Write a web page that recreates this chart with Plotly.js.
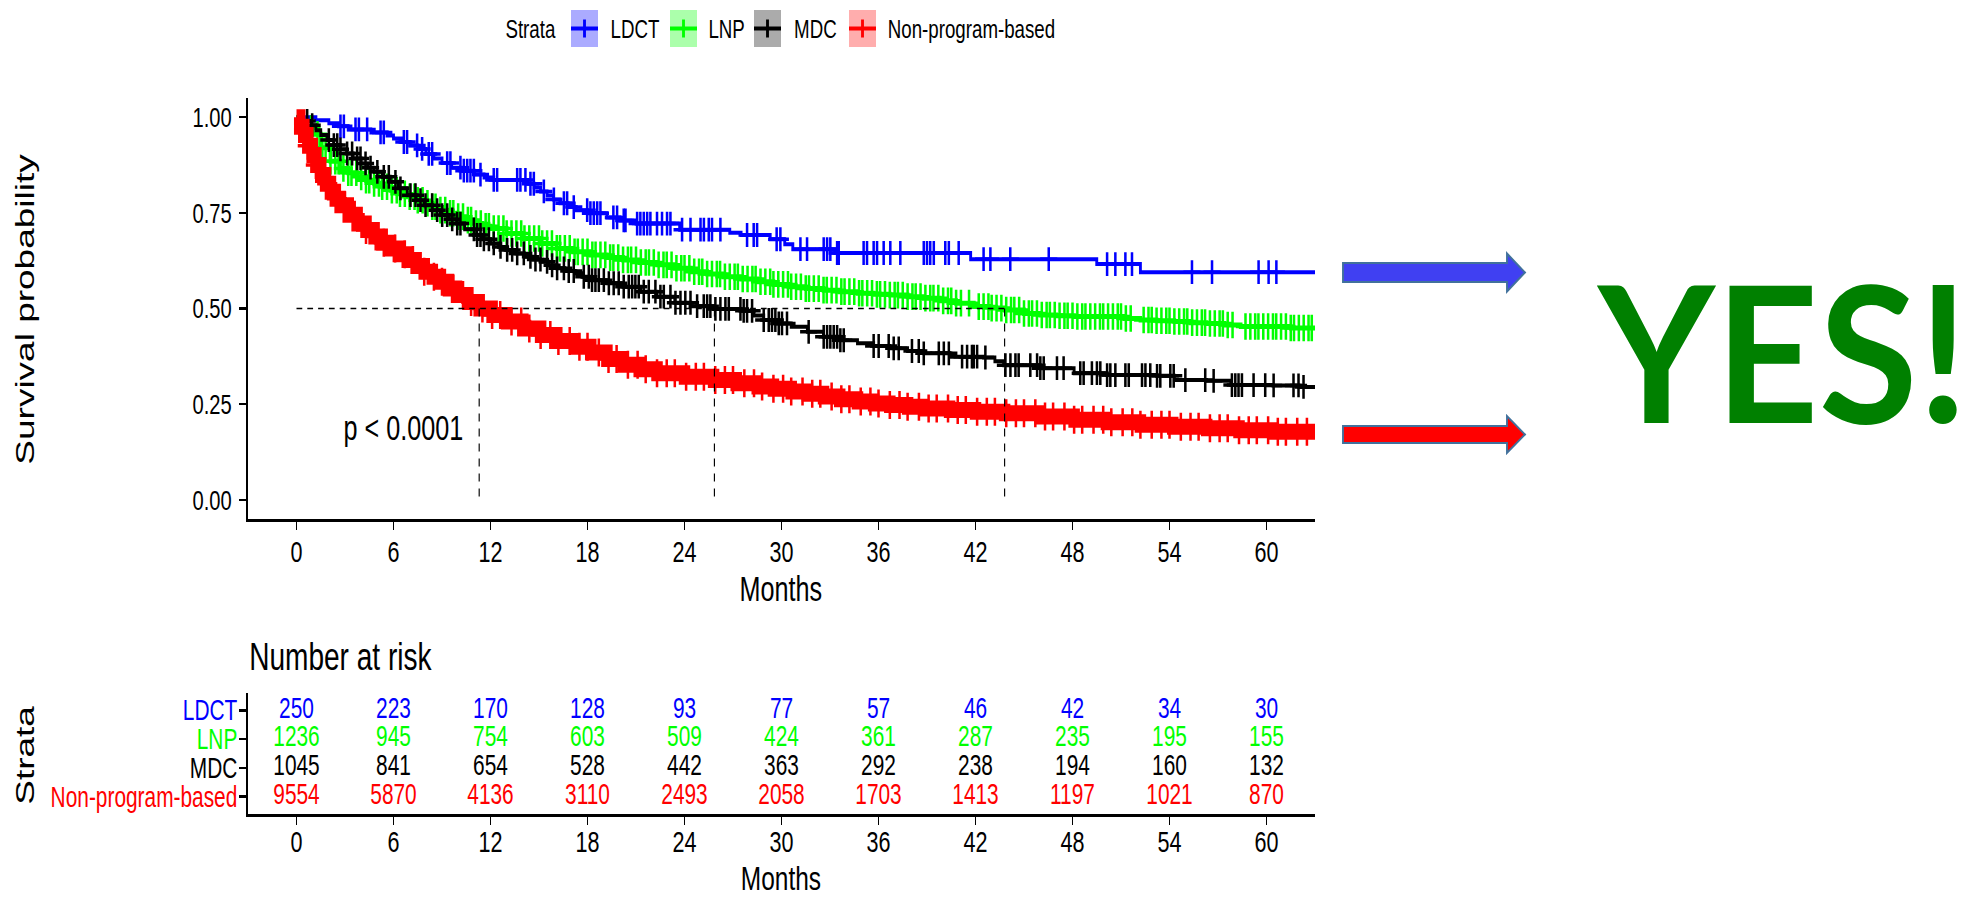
<!DOCTYPE html>
<html><head><meta charset="utf-8">
<script src="https://cdn.plot.ly/plotly-3.0.1.min.js"></script>
<style>
html,body{margin:0;padding:0;background:#fff;overflow:hidden;width:1977px;height:899px;}
#wrap{position:absolute;left:0;top:0;width:1977px;height:899px;overflow:hidden;}
#km{position:absolute;left:0;top:0;width:2746px;height:899px;transform:scaleX(0.71996);transform-origin:0 0;}
#overlay{position:absolute;left:0;top:0;width:2081px;height:899px;transform:scaleX(0.95002);transform-origin:0 0;pointer-events:none;}
</style></head><body>
<div id="wrap"><div id="km"></div><div id="overlay"></div></div>
<script>
// ---------------- DATA ----------------
const strata = ['LDCT', 'LNP', 'MDC', 'Non-program-based'];

const ldctTime = [0, 1.2, 2.0, 2.6, 3.2, 4.6, 5.6, 6.0, 6.5, 7.0, 7.5, 8.0, 8.5, 9.0, 9.6, 10.2, 11.0, 11.6, 12.2, 14.3, 14.7, 15.1, 15.5, 15.9, 16.3, 16.8, 17.3, 18.0, 19.2, 20.0, 21.0, 23.7, 26.8, 27.5, 29.3, 30.2, 30.7, 33.3, 41.7, 49.5, 52.2, 63.0];
const ldctSurv = [1.0, 0.992, 0.984, 0.976, 0.968, 0.960, 0.952, 0.944, 0.935, 0.926, 0.917, 0.904, 0.892, 0.880, 0.868, 0.860, 0.850, 0.842, 0.836, 0.826, 0.816, 0.806, 0.795, 0.785, 0.775, 0.765, 0.757, 0.749, 0.738, 0.730, 0.722, 0.706, 0.698, 0.692, 0.681, 0.668, 0.655, 0.645, 0.629, 0.616, 0.595, 0.595];
const ldctCensor = [2.72, 2.93, 3.65, 3.86, 4.37, 5.2, 5.4, 6.64, 6.84, 7.46, 7.77, 8.18, 8.39, 9.32, 9.52, 10.14, 10.35, 10.56, 10.76, 10.97, 11.38, 12.2, 12.41, 13.65, 13.85, 14.16, 14.47, 14.68, 15.3, 15.92, 16.54, 16.74, 17.15, 17.98, 18.18, 18.39, 18.6, 18.8, 19.6, 19.83, 20.24, 20.35, 21.07, 21.27, 21.48, 21.69, 21.89, 22.3, 22.61, 22.92, 23.13, 23.85, 24.37, 24.99, 25.2, 25.5, 25.7, 26.22, 27.87, 28.28, 28.49, 29.7, 29.93, 31.17, 31.58, 32.61, 32.82, 33.02, 33.44, 33.54, 35.08, 35.29, 35.7, 35.91, 36.32, 36.73, 37.35, 38.8, 39.0, 39.2, 39.42, 40.13, 40.35, 40.96, 42.5, 42.92, 44.15, 46.53, 50.14, 50.65, 51.27, 51.68, 55.39, 56.63, 59.51, 60.13, 60.61];

const lnpTime = [0, 0.3, 0.6, 1.0, 1.5, 2.1, 2.7, 3.2, 3.75, 4.3, 4.8, 5.3, 5.8, 6.3, 6.85, 7.4, 7.9, 8.4, 8.9, 9.4, 9.9, 10.5, 11.0, 11.5, 12.0, 13.0, 14.0, 15.1, 16.1, 17.1, 18.2, 19.2, 20.2, 21.2, 22.3, 23.4, 24.4, 25.4, 26.4, 27.5, 28.5, 29.5, 30.5, 31.5, 32.6, 33.6, 34.7, 35.7, 36.7, 37.8, 38.8, 39.8, 40.8, 41.9, 42.9, 43.8, 45.0, 46.0, 47.0, 48.1, 50.1, 51.2, 52.2, 53.2, 54.3, 55.3, 56.3, 57.4, 58.4, 60.4, 61.5, 63.0];
const lnpSurv = [1.0, 0.985, 0.970, 0.955, 0.920, 0.885, 0.866, 0.855, 0.844, 0.835, 0.827, 0.818, 0.809, 0.800, 0.792, 0.783, 0.775, 0.766, 0.757, 0.749, 0.740, 0.731, 0.722, 0.715, 0.709, 0.696, 0.683, 0.670, 0.657, 0.648, 0.640, 0.633, 0.627, 0.620, 0.614, 0.605, 0.596, 0.590, 0.583, 0.577, 0.570, 0.563, 0.557, 0.552, 0.548, 0.544, 0.540, 0.537, 0.535, 0.531, 0.527, 0.520, 0.514, 0.505, 0.501, 0.496, 0.487, 0.483, 0.481, 0.479, 0.479, 0.474, 0.470, 0.468, 0.466, 0.463, 0.461, 0.457, 0.453, 0.453, 0.449, 0.444];
const lnpCensor = [0.9, 1.3, 1.6, 1.8, 2.1, 2.4, 2.6, 2.9, 3.2, 3.4, 3.7, 4.0, 4.3, 4.5, 4.8, 5.1, 5.3, 5.6, 5.9, 6.2, 6.4, 6.7, 7.0, 7.3, 7.5, 7.8, 8.1, 8.4, 8.6, 8.9, 9.2, 9.5, 9.7, 10.0, 10.3, 10.6, 10.8, 11.1, 11.4, 11.7, 11.9, 12.2, 12.5, 12.8, 13.0, 13.3, 13.6, 13.9, 14.1, 14.4, 14.7, 15.0, 15.2, 15.5, 15.8, 16.1, 16.3, 16.6, 16.9, 17.2, 17.4, 17.7, 18.0, 18.3, 18.5, 18.8, 19.1, 19.4, 19.6, 19.9, 20.2, 20.5, 20.7, 21.0, 21.3, 21.6, 21.8, 22.1, 22.4, 22.7, 22.9, 23.2, 23.5, 23.8, 24.0, 24.3, 24.6, 24.9, 25.1, 25.4, 25.7, 26.0, 26.2, 26.5, 26.8, 27.1, 27.3, 27.6, 27.9, 28.2, 28.4, 28.7, 29.0, 29.3, 29.5, 29.8, 30.1, 30.4, 30.6, 30.9, 31.2, 31.5, 31.7, 32.0, 32.3, 32.6, 32.8, 33.1, 33.4, 33.7, 33.9, 34.2, 34.5, 34.8, 35.0, 35.3, 35.6, 35.9, 36.1, 36.4, 36.7, 37.0, 37.2, 37.5, 37.8, 38.1, 38.3, 38.6, 38.9, 39.2, 39.4, 39.7, 40.0, 40.3, 40.5, 40.8, 41.1, 41.6, 42.2, 42.5, 42.8, 43.0, 43.3, 43.6, 43.9, 44.2, 44.4, 44.7, 45.0, 45.3, 45.5, 45.8, 46.1, 46.4, 46.6, 46.9, 47.2, 47.5, 47.7, 48.0, 48.3, 48.6, 48.8, 49.1, 49.4, 49.7, 49.9, 50.2, 50.5, 50.8, 51.0, 51.3, 51.6, 52.4, 52.7, 52.9, 53.2, 53.5, 53.8, 54.0, 54.3, 54.6, 54.9, 55.1, 55.4, 55.7, 56.0, 56.2, 56.5, 56.8, 57.1, 57.3, 57.6, 57.9, 58.7, 59.0, 59.3, 59.5, 59.8, 60.1, 60.4, 60.6, 60.9, 61.2, 61.5, 61.7, 62.0, 62.3, 62.6, 62.8];

const mdcTime = [0, 0.4, 0.9, 1.2, 1.5, 1.9, 2.3, 2.7, 3.1, 3.5, 4.0, 4.4, 4.8, 5.3, 5.8, 6.3, 6.85, 7.4, 7.9, 8.4, 8.9, 9.4, 9.9, 10.4, 11.0, 11.5, 12.0, 12.5, 13.0, 13.5, 14.1, 14.6, 15.1, 15.6, 16.1, 16.6, 17.2, 17.7, 18.2, 19.2, 20.2, 21.3, 22.3, 23.4, 24.4, 25.8, 27.5, 28.3, 28.9, 29.7, 30.6, 31.6, 32.6, 33.6, 34.7, 35.7, 36.7, 37.8, 38.8, 40.4, 42.5, 43.2, 43.75, 46.0, 48.1, 50.1, 53.2, 54.3, 56.3, 57.8, 60.4, 62.0, 63.0];
const mdcSurv = [1.0, 0.990, 0.979, 0.966, 0.953, 0.940, 0.927, 0.916, 0.905, 0.892, 0.879, 0.868, 0.857, 0.844, 0.831, 0.814, 0.796, 0.783, 0.770, 0.757, 0.744, 0.733, 0.722, 0.707, 0.692, 0.681, 0.670, 0.661, 0.653, 0.644, 0.635, 0.628, 0.622, 0.613, 0.605, 0.598, 0.592, 0.583, 0.574, 0.566, 0.557, 0.544, 0.531, 0.515, 0.506, 0.499, 0.494, 0.482, 0.470, 0.461, 0.452, 0.439, 0.426, 0.417, 0.409, 0.402, 0.396, 0.389, 0.383, 0.374, 0.372, 0.362, 0.352, 0.344, 0.331, 0.326, 0.324, 0.313, 0.311, 0.300, 0.299, 0.295, 0.290];
const mdcCensor = [0.66, 0.97, 2.0, 2.31, 2.52, 2.72, 3.13, 3.44, 3.75, 3.96, 4.27, 4.58, 5.0, 5.4, 5.71, 6.12, 6.43, 7.05, 7.36, 7.67, 7.98, 8.39, 8.7, 9.01, 9.32, 9.63, 9.94, 10.14, 10.97, 11.17, 11.38, 11.59, 11.9, 12.2, 12.62, 13.03, 13.34, 13.65, 14.06, 14.47, 14.78, 15.09, 15.5, 15.81, 16.12, 16.54, 16.84, 17.15, 17.77, 18.08, 18.28, 18.49, 18.7, 19.01, 19.32, 19.62, 19.93, 20.24, 20.55, 20.76, 20.96, 21.17, 21.48, 21.79, 22.2, 22.51, 22.72, 23.13, 23.44, 23.75, 24.05, 24.37, 24.78, 25.19, 25.4, 25.6, 25.91, 26.22, 26.53, 26.74, 27.46, 27.66, 27.87, 28.18, 28.9, 29.21, 29.41, 29.62, 29.83, 30.03, 30.34, 31.68, 32.61, 32.82, 33.02, 33.23, 33.44, 33.64, 33.85, 35.7, 36.01, 36.63, 36.94, 37.25, 38.07, 38.49, 38.8, 39.73, 40.04, 40.35, 41.17, 41.48, 41.78, 41.89, 42.1, 42.61, 43.85, 44.16, 44.47, 44.67, 45.39, 45.81, 46.01, 46.22, 47.04, 47.45, 48.48, 48.69, 49.2, 49.51, 49.72, 50.14, 50.34, 50.65, 51.27, 51.48, 52.3, 52.51, 52.81, 53.23, 53.43, 54.05, 54.26, 54.98, 56.21, 56.73, 57.86, 58.07, 58.27, 58.48, 59.2, 59.92, 60.44, 61.67, 61.98, 62.29];

const nonTime = [0, 0.2, 0.45, 0.7, 0.97, 1.2, 1.5, 1.8, 2.1, 2.4, 2.7, 3.2, 3.75, 4.3, 4.8, 5.3, 5.8, 6.3, 6.85, 7.4, 7.9, 8.4, 8.9, 9.4, 9.9, 10.6, 11.3, 12.1, 13.0, 14.0, 15.1, 16.1, 17.2, 18.2, 19.2, 20.2, 21.2, 22.3, 24.0, 25.8, 27.2, 28.5, 29.5, 30.6, 31.6, 32.6, 33.6, 34.7, 35.7, 36.7, 37.8, 38.8, 40.4, 42.0, 43.8, 46.0, 48.1, 50.1, 52.2, 54.2, 56.3, 58.3, 60.4, 63.0];
const nonSurv = [1.0, 0.975, 0.953, 0.925, 0.901, 0.875, 0.849, 0.826, 0.805, 0.787, 0.770, 0.745, 0.722, 0.705, 0.688, 0.672, 0.657, 0.642, 0.627, 0.611, 0.596, 0.583, 0.570, 0.552, 0.535, 0.517, 0.500, 0.483, 0.466, 0.448, 0.431, 0.415, 0.400, 0.385, 0.368, 0.353, 0.341, 0.331, 0.322, 0.313, 0.305, 0.296, 0.290, 0.283, 0.277, 0.270, 0.263, 0.257, 0.252, 0.248, 0.243, 0.239, 0.235, 0.230, 0.226, 0.218, 0.209, 0.203, 0.196, 0.191, 0.187, 0.182, 0.178, 0.174];
const nonCensor = [0.7, 1.2, 1.9, 2.5, 3.0, 3.6, 4.3, 4.9, 5.4, 6.1, 6.7, 7.2, 7.9, 8.5, 9.0, 9.7, 10.3, 10.8, 11.5, 12.1, 12.6, 13.3, 13.9, 14.4, 15.1, 15.7, 16.2, 16.9, 17.5, 18.0, 18.7, 19.3, 19.8, 20.5, 21.1, 21.6, 22.3, 22.9, 23.4, 24.1, 24.7, 25.2, 25.9, 26.5, 27.0, 27.7, 28.3, 28.8, 29.5, 30.1, 30.6, 31.3, 31.9, 32.4, 33.1, 33.7, 34.2, 34.9, 35.5, 36.0, 36.7, 37.3, 37.8, 38.5, 39.1, 39.6, 40.3, 40.9, 41.4, 42.1, 42.7, 43.2, 43.9, 44.5, 45.0, 45.7, 46.3, 46.8, 47.5, 48.1, 48.6, 49.3, 49.9, 50.4, 51.1, 51.7, 52.2, 52.9, 53.5, 54.0, 54.7, 55.3, 55.8, 56.5, 57.1, 57.6, 58.3, 58.9, 59.4, 60.1, 60.7, 61.2, 61.9, 62.5];

const medianTimes = [11.3, 25.85, 43.8];
const pValueText = 'p &lt; 0.0001';

const riskTimes = [0, 6, 12, 18, 24, 30, 36, 42, 48, 54, 60];
const riskLDCT = [250, 223, 170, 128, 93, 77, 57, 46, 42, 34, 30];
const riskLNP = [1236, 945, 754, 603, 509, 424, 361, 287, 235, 195, 155];
const riskMDC = [1045, 841, 654, 528, 442, 363, 292, 238, 194, 160, 132];
const riskNon = [9554, 5870, 4136, 3110, 2493, 2058, 1703, 1413, 1197, 1021, 870];

const monthTicks = [0, 6, 12, 18, 24, 30, 36, 42, 48, 54, 60];
const survTicks = [0, 0.25, 0.5, 0.75, 1.0];
const survTickText = ['0.00', '0.25', '0.50', '0.75', '1.00'];

// ---------------- STYLE / LAYOUT ----------------
const colors = ['#0000FF', '#00FF00', '#000000', '#FF0000'];
const keyFill = ['rgba(0,0,255,0.33)', 'rgba(0,255,0,0.33)', 'rgba(0,0,0,0.33)', 'rgba(255,0,0,0.32)'];
const FONT = 'Liberation Sans, Arial, Helvetica, sans-serif';
const W = 2746, H = 899;
const px = X => X / 1977;          // reference pixel -> paper x
const py = Y => 1 - Y / 899;       // reference pixel -> paper y

function survAt(times, surv, t) {
  let v = surv[0];
  for (let i = 0; i < times.length; i++) { if (times[i] <= t) v = surv[i]; }
  return v;
}

const groups = [
  {time: ldctTime, surv: ldctSurv, cens: ldctCensor, risk: riskLDCT, lw: 4, ms: 17},
  {time: lnpTime, surv: lnpSurv, cens: lnpCensor, risk: riskLNP, lw: 5, ms: 19},
  {time: mdcTime, surv: mdcSurv, cens: mdcCensor, risk: riskMDC, lw: 4, ms: 17},
  {time: nonTime, surv: nonSurv, cens: nonCensor, risk: riskNon, lw: 16, ms: 20}
];

const traces = [];
groups.forEach((g, i) => {
  traces.push({type: 'scatter', mode: 'lines', x: g.time, y: g.surv, xaxis: 'x', yaxis: 'y',
    line: {shape: 'hv', color: colors[i], width: g.lw}, name: strata[i], showlegend: false, hoverinfo: 'skip'});
  traces.push({type: 'scatter', mode: 'markers', x: g.cens, y: g.cens.map(t => survAt(g.time, g.surv, t)),
    xaxis: 'x', yaxis: 'y', showlegend: false, hoverinfo: 'skip',
    marker: {symbol: 'cross-thin', size: g.ms, color: colors[i], line: {color: colors[i], width: 3.5}}});
});

// median survival lines (horizontal to the largest median, vertical at each median)
const medX = [0, Math.max(...medianTimes), null], medY = [0.5, 0.5, null];
medianTimes.forEach(m => { medX.push(m, m, null); medY.push(0.5, 0, null); });
traces.push({type: 'scatter', mode: 'lines', x: medX, y: medY, xaxis: 'x', yaxis: 'y', showlegend: false,
  hoverinfo: 'skip', line: {color: '#000', width: 1.6, dash: '8px,7px'}});

// number at risk table
groups.forEach((g, i) => {
  traces.push({type: 'scatter', mode: 'text', x: riskTimes, y: riskTimes.map(() => 4 - i),
    text: g.risk.map(String), xaxis: 'x2', yaxis: 'y2', showlegend: false, hoverinfo: 'skip', cliponaxis: false,
    textposition: 'middle center', textfont: {family: FONT, size: 29, color: colors[i]}});
});

const axisCommon = {showline: true, linecolor: '#000', showgrid: false, zeroline: false, ticks: 'outside',
  tickcolor: '#000', fixedrange: true, tickfont: {family: FONT, size: 30, color: '#000'}};

const rowTickText = strata.map((s, i) => '<span style="color:' + colors[i] + '">' + s + '</span>').reverse();

const annotations = [
  {text: pValueText, x: px(342), y: py(427), xref: 'paper', yref: 'paper', xanchor: 'left', yanchor: 'middle', showarrow: false, font: {family: FONT, size: 35, color: '#000'}},
  {text: 'Survival probability', x: px(25), y: py(309), xref: 'paper', yref: 'paper', xanchor: 'center', yanchor: 'middle', textangle: -90, showarrow: false, font: {family: FONT, size: 37, color: '#000'}},
  {text: 'Months', x: px(781), y: py(588), xref: 'paper', yref: 'paper', xanchor: 'center', yanchor: 'middle', showarrow: false, font: {family: FONT, size: 35, color: '#000'}},
  {text: 'Number at risk', x: px(248), y: py(656), xref: 'paper', yref: 'paper', xanchor: 'left', yanchor: 'middle', showarrow: false, font: {family: FONT, size: 39, color: '#000'}},
  {text: 'Strata', x: px(25), y: py(755), xref: 'paper', yref: 'paper', xanchor: 'center', yanchor: 'middle', textangle: -90, showarrow: false, font: {family: FONT, size: 37, color: '#000'}},
  {text: 'Months', x: px(781), y: 0, xref: 'paper', yref: 'paper', xanchor: 'center', yanchor: 'bottom', showarrow: false, font: {family: FONT, size: 34, color: '#000'}},
  {text: 'Strata', x: px(557), y: py(28.5), xref: 'paper', yref: 'paper', xanchor: 'right', yanchor: 'middle', showarrow: false, font: {family: FONT, size: 26, color: '#000'}}
];
const shapes = [];
const keyBoxes = [[571, 598, 609], [670, 697, 707], [754, 781, 793], [849, 876, 886]];
keyBoxes.forEach((b, i) => {
  shapes.push({type: 'rect', xref: 'paper', yref: 'paper', x0: px(b[0]), x1: px(b[1]), y0: py(47), y1: py(10), fillcolor: keyFill[i], line: {width: 0}});
  shapes.push({type: 'line', xref: 'paper', yref: 'paper', x0: px(b[0]), x1: px(b[1]), y0: py(28.5), y1: py(28.5), line: {color: colors[i], width: 4}});
  shapes.push({type: 'line', xref: 'paper', yref: 'paper', x0: px((b[0] + b[1]) / 2), x1: px((b[0] + b[1]) / 2), y0: py(19.5), y1: py(37.5), line: {color: colors[i], width: 4}});
  annotations.push({text: strata[i], x: px(b[2]), y: py(28.5), xref: 'paper', yref: 'paper', xanchor: 'left', yanchor: 'middle', showarrow: false, font: {family: FONT, size: 26, color: '#000'}});
});

const layout = {
  width: W, height: H, margin: {l: 0, r: 0, t: 0, b: 0}, paper_bgcolor: '#fff', plot_bgcolor: '#fff', showlegend: false,
  font: {family: FONT, color: '#000'},
  xaxis: Object.assign({}, axisCommon, {domain: [px(248), px(1315)], range: [-3, 63], anchor: 'y', tickvals: monthTicks, ticktext: monthTicks.map(String), ticklen: 8, tickwidth: 2.5, linewidth: 3, ticklabelstandoff: -4}),
  yaxis: Object.assign({}, axisCommon, {domain: [py(519), py(98)], range: [-0.05, 1.05], anchor: 'x', tickvals: survTicks, ticktext: survTickText, ticklen: 10, tickwidth: 2.5, linewidth: 3, ticklabelstandoff: 4, tickfont: {family: FONT, size: 28, color: '#000'}}),
  xaxis2: Object.assign({}, axisCommon, {domain: [px(248), px(1315)], range: [-3, 63], anchor: 'y2', tickvals: monthTicks, ticktext: monthTicks.map(String), ticklen: 8, tickwidth: 2.5, linewidth: 3, ticklabelstandoff: -9}),
  yaxis2: Object.assign({}, axisCommon, {domain: [py(814), py(693)], range: [0.4, 4.6], anchor: 'x2', tickvals: [1, 2, 3, 4], ticktext: rowTickText, ticklen: 10, tickwidth: 2.5, linewidth: 3, ticklabelstandoff: -4, tickfont: {family: FONT, size: 29, color: '#000'}}),
  annotations: annotations, shapes: shapes
};

Plotly.newPlot('km', traces, layout, {displayModeBar: false, staticPlot: true});

// ---------------- overlay: arrows + YES! ----------------
const ox = X => X / 1977, oy = Y => 1 - Y / 899;
function arrowPath(x0, x1, tip, yc, shaftH, headH) {
  const a = yc - shaftH / 2, b = yc + shaftH / 2, c = yc - headH / 2, d = yc + headH / 2;
  return 'M ' + ox(x0) + ' ' + oy(a) + ' L ' + ox(x1) + ' ' + oy(a) + ' L ' + ox(x1) + ' ' + oy(c) +
    ' L ' + ox(tip) + ' ' + oy(yc) + ' L ' + ox(x1) + ' ' + oy(d) + ' L ' + ox(x1) + ' ' + oy(b) +
    ' L ' + ox(x0) + ' ' + oy(b) + ' Z';
}
const overlayLayout = {
  width: 2081, height: 899, margin: {l: 0, r: 0, t: 0, b: 0},
  paper_bgcolor: 'rgba(0,0,0,0)', plot_bgcolor: 'rgba(0,0,0,0)',
  xaxis: {visible: false, range: [0, 1]}, yaxis: {visible: false, range: [0, 1]},
  shapes: [
    {type: 'path', xref: 'paper', yref: 'paper', path: arrowPath(1343, 1507, 1525, 272.5, 19, 38), fillcolor: '#4040F2', line: {color: '#41719C', width: 2}},
    {type: 'path', xref: 'paper', yref: 'paper', path: arrowPath(1343, 1507, 1525, 434.5, 17, 37), fillcolor: '#FF0000', line: {color: '#41719C', width: 2}}
  ],
  annotations: [
    {text: 'YES!', x: ox(1782), y: oy(349), xref: 'paper', yref: 'paper', xanchor: 'center', yanchor: 'middle', showarrow: false,
      font: {family: 'Lato, Open Sans, sans-serif', size: 190, color: '#008000', weight: 700}}
  ]
};
Plotly.newPlot('overlay', [], overlayLayout, {displayModeBar: false, staticPlot: true});
</script>
</body></html>
